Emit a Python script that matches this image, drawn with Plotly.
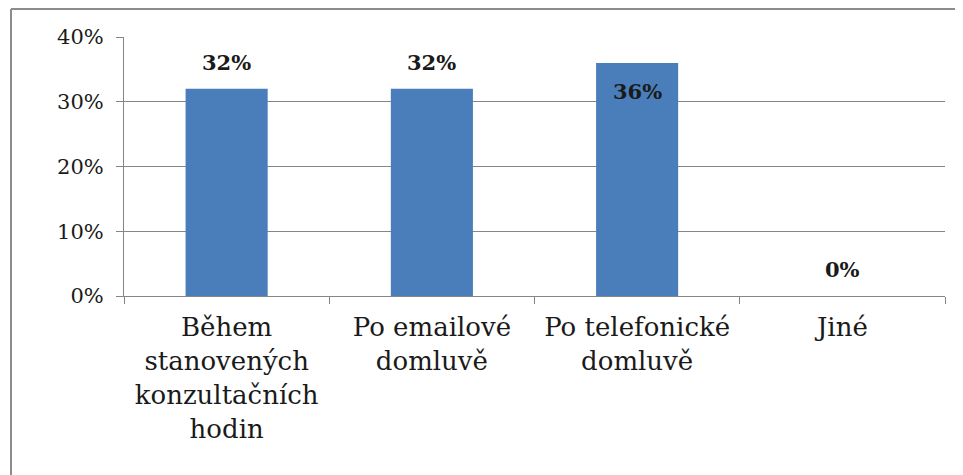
import plotly.graph_objects as go

categories = ["Během<br>stanovených<br>konzultačních<br>hodin",
              "Po emailové<br>domluvě",
              "Po telefonické<br>domluvě",
              "Jiné"]
values = [0.32, 0.32, 0.36, 0.0]
value_labels = ["32%", "32%", "36%", "0%"]
label_inside = [False, False, True, False]
y_ticks = [0, 0.1, 0.2, 0.3, 0.4]
y_tick_labels = ["0%", "10%", "20%", "30%", "40%"]

SERIF = "DejaVu Serif"

W, H = 963, 475
OFF = 8  # page body margin
ml, mr, mt, mb = 124 - OFF, 18 + OFF, 37 - OFF, 179 + OFF

fig = go.Figure()
fig.add_trace(go.Bar(
    x=categories, y=values,
    marker=dict(color="#4a7ebb", line=dict(width=0)),
    width=0.4,
    hoverinfo="skip",
))

for cat, v, lab, inside in zip(categories, values, value_labels, label_inside):
    fig.add_annotation(
        x=cat, y=v, text="<b>" + lab + "</b>", showarrow=False,
        yanchor="top" if inside else "bottom",
        yshift=-14 if inside else 12,
        font=dict(family=SERIF, size=21, color="#1a1a1a"),
    )

pw = W - ml - mr
ph = H - mt - mb
fx, fy = 11 - OFF, 9 - OFF
fig.add_shape(type="line", xref="paper", yref="paper",
              x0=(fx - ml) / pw, x1=(fx - ml) / pw,
              y0=(H - mb - H) / ph, y1=(H - mb - fy) / ph,
              line=dict(color="#8c8c8c", width=2))
fig.add_shape(type="line", xref="paper", yref="paper",
              x0=(fx - ml) / pw, x1=(W - ml) / pw,
              y0=(H - mb - fy) / ph, y1=(H - mb - fy) / ph,
              line=dict(color="#8c8c8c", width=2))

fig.update_layout(
    width=W, height=H,
    margin=dict(l=ml, r=mr, t=mt, b=mb),
    paper_bgcolor="white", plot_bgcolor="white",
    showlegend=False,
    bargap=0.6,
    font=dict(family=SERIF, color="#1a1a1a"),
    xaxis=dict(
        type="category",
        showline=True, linecolor="#868686", linewidth=1,
        ticks="outside", tickson="boundaries", ticklen=7, tickcolor="#868686",
        tickfont=dict(size=26, family=SERIF, color="#1a1a1a"),
        ticklabelstandoff=8,
        showgrid=False,
    ),
    yaxis=dict(
        range=[0, 0.4],
        tickvals=y_ticks, ticktext=y_tick_labels,
        showline=True, linecolor="#868686", linewidth=1,
        ticks="outside", ticklen=7, tickcolor="#868686",
        showgrid=True, gridcolor="#868686", gridwidth=1,
        zeroline=False,
        ticklabelstandoff=8,
        tickfont=dict(size=21, family=SERIF, color="#1a1a1a"),
    ),
)

fig.write_html("out.html")
